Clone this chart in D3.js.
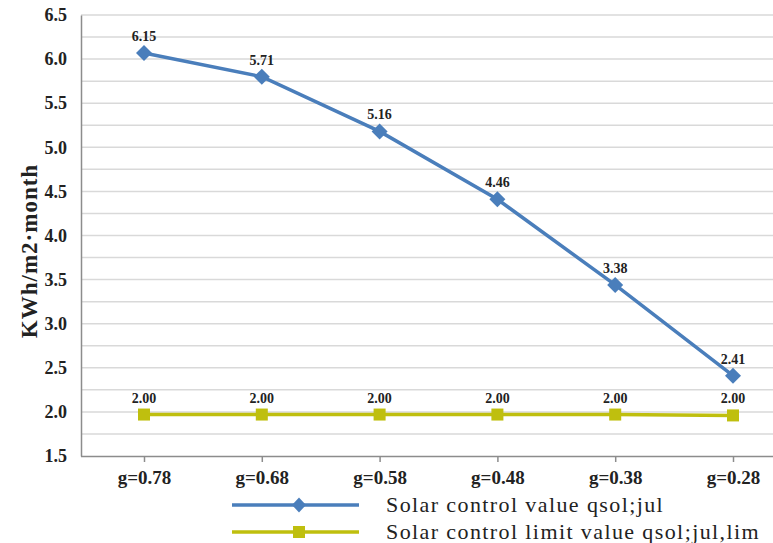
<!DOCTYPE html>
<html>
<head>
<meta charset="utf-8">
<script src="https://cdn.jsdelivr.net/npm/d3@7"></script>
<style>
  body { margin: 0; background: #fff; }
  svg { display: block; }
</style>
</head>
<body>
<svg id="chart" width="773" height="543"></svg>
<script>
// categories and values
const categories = ["g=0.78", "g=0.68", "g=0.58", "g=0.48", "g=0.38", "g=0.28"];
const solarValues = [6.07, 5.80, 5.18, 4.41, 3.44, 2.41];
const solarLabels = ["6.15", "5.71", "5.16", "4.46", "3.38", "2.41"];
const limitValues = [1.97, 1.97, 1.97, 1.97, 1.97, 1.96];
const limitLabels = ["2.00", "2.00", "2.00", "2.00", "2.00", "2.00"];
const yTicks = [1.5, 2.0, 2.5, 3.0, 3.5, 4.0, 4.5, 5.0, 5.5, 6.0, 6.5];
const legendNames = ["Solar control value qsol;jul", "Solar control limit value qsol;jul,lim"];

const blue = "#4a7ebb";
const yellow = "#bfbf0e";
const serif = "'Liberation Serif', 'DejaVu Serif', serif";

var svg = d3.select("#chart");

let plotLeft = 81, plotRight = 773, plotTop = 15, plotBottom = 456;

var x = d3.scalePoint().domain(categories).range([144, 733]);
var y = d3.scaleLinear().domain([1.5, 6.5]).range([plotBottom, plotTop]);

// gridlines every 0.25
let gridVals = d3.range(1.75, 6.51, 0.25);
svg.selectAll(".grid")
  .data(gridVals)
  .enter()
  .append("line")
  .attr("class", "grid")
  .attr("x1", plotLeft)
  .attr("x2", plotRight)
  .attr("y1", d => y(d))
  .attr("y2", d => y(d))
  .attr("stroke", "#d9d9d9")
  .attr("stroke-width", 1.5);

// y axis
let yAxis = d3.axisLeft(y).tickValues(yTicks).tickFormat(d3.format(".1f")).tickSize(0).tickPadding(14);
let yg = svg.append("g").attr("transform", `translate(${plotLeft},0)`).call(yAxis);
yg.select(".domain").attr("stroke", "#8c8c8c").attr("stroke-width", 1.5);
yg.selectAll("text")
  .attr("font-family", serif)
  .attr("font-weight", "bold")
  .attr("font-size", 18)
  .attr("fill", "#222");

// x axis
let xAxis = d3.axisBottom(x).tickSize(6).tickPadding(9);
let xg = svg.append("g").attr("transform", `translate(0,${plotBottom})`).call(xAxis);
xg.select(".domain").attr("d", `M${plotLeft},0.5H${plotRight}`).attr("stroke", "#8c8c8c").attr("stroke-width", 1.5);
xg.selectAll(".tick line").attr("stroke", "#8c8c8c").attr("stroke-width", 1.5);
xg.selectAll("text")
  .attr("font-family", serif)
  .attr("font-weight", "bold")
  .attr("font-size", 19)
  .attr("fill", "#222");

// y title
svg.append("text")
  .attr("transform", "translate(37,251) rotate(-90)")
  .attr("text-anchor", "middle")
  .attr("font-family", serif)
  .attr("font-weight", "bold")
  .attr("font-size", 23)
  .attr("letter-spacing", 1)
  .attr("fill", "#222")
  .text("KWh/m2\u00b7month");

var line = d3.line()
  .x((d, i) => x(categories[i]))
  .y(d => y(d));

// limit series
svg.append("path")
  .datum(limitValues)
  .attr("d", line)
  .attr("fill", "none")
  .attr("stroke", yellow)
  .attr("stroke-width", 3.5);

svg.selectAll(".sq")
  .data(limitValues)
  .enter()
  .append("rect")
  .attr("class", "sq")
  .attr("x", (d, i) => x(categories[i]) - 6)
  .attr("y", d => y(d) - 6)
  .attr("width", 12)
  .attr("height", 12)
  .attr("fill", yellow);

// solar series
svg.append("path")
  .datum(solarValues)
  .attr("d", line)
  .attr("fill", "none")
  .attr("stroke", blue)
  .attr("stroke-width", 3.5);

svg.selectAll(".dia")
  .data(solarValues)
  .enter()
  .append("path")
  .attr("class", "dia")
  .attr("d", "M0,-8L8,0L0,8L-8,0Z")
  .attr("transform", (d, i) => `translate(${x(categories[i])},${y(d)})`)
  .attr("fill", blue);

// data labels
function addLabels(vals, labels, cls) {
  svg.selectAll("." + cls)
    .data(vals)
    .enter()
    .append("text")
    .attr("class", cls)
    .attr("x", (d, i) => x(categories[i]))
    .attr("y", d => y(d) - 12)
    .attr("text-anchor", "middle")
    .attr("font-family", serif)
    .attr("font-weight", "bold")
    .attr("font-size", 14)
    .attr("fill", "#222")
    .text((d, i) => labels[i]);
}
addLabels(solarValues, solarLabels, "lab1");
addLabels(limitValues, limitLabels, "lab2");

// legend
let legendY = [505, 532];
let legend = svg.selectAll(".legend")
  .data(legendNames)
  .enter()
  .append("g")
  .attr("class", "legend")
  .attr("transform", (d, i) => `translate(0,${legendY[i]})`);

legend.append("line")
  .attr("x1", 232)
  .attr("x2", 359)
  .attr("stroke", (d, i) => i == 0 ? blue : yellow)
  .attr("stroke-width", 3.5);

legend.filter((d, i) => i == 0).append("path")
  .attr("d", "M299,-7.5L306,0L299,7.5L292,0Z")
  .attr("fill", blue);

legend.filter((d, i) => i == 1).append("rect")
  .attr("x", 293).attr("y", -6).attr("width", 12).attr("height", 12)
  .attr("fill", yellow);

legend.append("text")
  .attr("x", 386)
  .attr("y", 7)
  .attr("font-family", serif)
  .attr("font-size", 22)
  .attr("letter-spacing", 1.4)
  .attr("fill", "#222")
  .text(d => d);
</script>
</body>
</html>
